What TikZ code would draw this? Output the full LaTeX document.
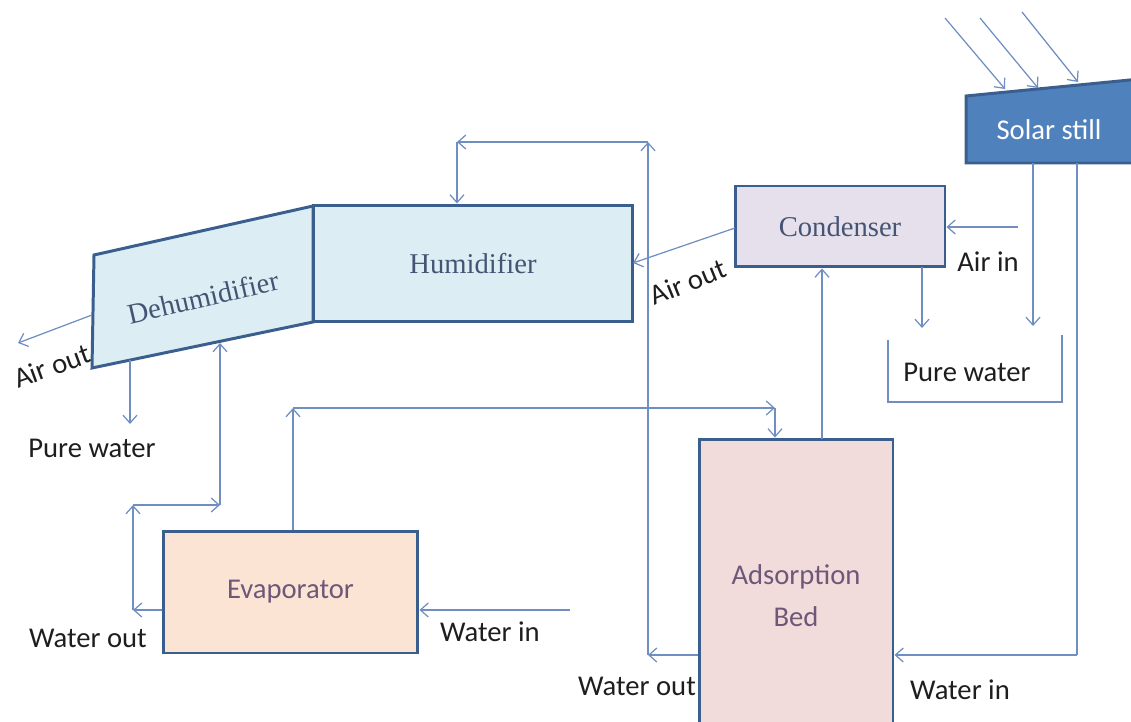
\documentclass[tikz,border=0pt]{standalone}
\usepackage{fontspec}
\setmainfont{Carlito}
\newfontfamily\serifface{Liberation Serif}
\usetikzlibrary{arrows.meta}
\definecolor{conn}{HTML}{6F8EC2}
\definecolor{bord}{HTML}{3A5F8E}
\definecolor{humfill}{HTML}{DCEEF4}
\definecolor{condfill}{HTML}{E6E0EC}
\definecolor{evapfill}{HTML}{FCE4D5}
\definecolor{bedfill}{HTML}{F2DCDB}
\definecolor{solarfill}{HTML}{4F81BD}
\definecolor{serift}{HTML}{455473}
\definecolor{purpt}{HTML}{6E5878}
\definecolor{labt}{HTML}{1E1E1E}
\tikzset{
  every node/.style={font=\fontsize{16.3}{19.5}\selectfont},
  box/.style={draw=bord, line width=1.7pt, inner sep=0pt, align=center},
  flow/.style={draw=conn, line width=0.7pt, -{Straight Barb[length=4.5pt,width=8pt]}},
  plain/.style={draw=conn, line width=0.7pt},
  lab/.style={text=labt, inner sep=0pt}
}
\begin{document}
\begin{tikzpicture}[x=0.02cm,y=-0.02cm]
\useasboundingbox (0,0) rectangle (1131,722);
\clip (0,0) rectangle (1131,722);
% Solar still
\filldraw[fill=solarfill, draw=bord, line width=1.7pt] (966,96) -- (1140,79) -- (1140,163) -- (966,163) -- cycle;
\node[text=white, inner sep=0pt] (solar) at (1049,130) {Solar still};
% Dehumidifier
\filldraw[fill=humfill, draw=bord, line width=1.7pt] (94,255) -- (313,206) -- (313,322) -- (92,368) -- cycle;
\node[text=serift, rotate=13, inner sep=0pt] (dehum) at (203,297) {\serifface Dehumidifier};
% Boxes
\node[box, fill=humfill, text=serift, minimum width=6.4cm, minimum height=2.34cm] (hum) at (473,263.5) {\serifface Humidifier};
\node[box, fill=condfill, text=serift, minimum width=4.2cm, minimum height=1.62cm] (cond) at (840,226.5) {\serifface Condenser};
\node[box, fill=evapfill, text=purpt, minimum width=5.1cm, minimum height=2.44cm] (evap) at (290.5,592) {Evaporator};
\node[box, fill=bedfill, text=purpt, minimum width=3.88cm, minimum height=6.26cm] (bed) at (796,595.5) {};
\node[text=purpt, align=center, inner sep=0pt, font=\fontsize{16.3}{24}\selectfont] (bedtxt) at (796,596) {Adsorption\\Bed};

% sun rays
\coordinate (r1a) at (945,18); \coordinate (r1b) at (1005,89);
\coordinate (r2a) at (980,18); \coordinate (r2b) at (1038,88);
\coordinate (r3a) at (1022,12); \coordinate (r3b) at (1078,82);
\draw[flow] (r1a) -- (r1b);
\draw[flow] (r2a) -- (r2b);
\draw[flow] (r3a) -- (r3b);

% solar still outputs
\coordinate (s1) at (1033,163); \coordinate (s1e) at (1033,326);
\draw[flow] (s1) -- (s1e);
\coordinate (s2) at (1077,163); \coordinate (s2c) at (1077,655);
\draw[plain] (s2) -- (s2c);
\draw[flow] (s2c) -- (bed.east |- s2c);
\node[lab] (win2) at (960,690) {Water in};

% condenser
\coordinate (airin) at (1018,227);
\draw[flow] (airin) -- (cond.east |- airin);
\node[lab] (airinl) at (988,262) {Air in};
\coordinate (cd) at (922,267); \coordinate (cde) at (922,328);
\draw[flow] (cd) -- (cde);
\coordinate (pw1) at (888,340); \coordinate (pw2) at (888,402);
\coordinate (pw3) at (1062,402); \coordinate (pw4) at (1062,335);
\draw[plain] (pw1) -- (pw2) -- (pw3) -- (pw4);
\node[lab] (pw) at (967,372) {Pure water};
\coordinate (bc) at (822,439);
\draw[flow] (bc) -- (cond.south -| bc);
\coordinate (co) at (735,228); \coordinate (hi) at (633,263);
\draw[flow] (co) -- (hi);
\node[lab, rotate=22] (airout2) at (688,282) {Air out};

% bed water out loop
\coordinate (wo1) at (648,655); \coordinate (wo2) at (648,142); \coordinate (wo3) at (457,142);
\draw[flow] (bed.west |- wo1) -- (wo1);
\draw[flow] (wo1) -- (wo2);
\draw[flow] (wo2) -- (wo3);
\draw[flow] (wo3) -- (hum.north -| wo3);
\node[lab] (wout2) at (637,686) {Water out};

% dehumidifier outputs
\coordinate (da) at (92,315); \coordinate (dae) at (18,343);
\draw[flow] (da) -- (dae);
\node[lab, rotate=20] (airout1) at (52,366) {Air out};
\coordinate (dp) at (130,360); \coordinate (dpe) at (130,424);
\draw[flow] (dp) -- (dpe);
\node[lab] (pw0) at (92,448) {Pure water};

% evaporator water out loop
\coordinate (e1) at (133,610); \coordinate (e2) at (133,505); \coordinate (e3) at (220,505); \coordinate (e4) at (220,343);
\draw[flow] (evap.west |- e1) -- (e1);
\draw[flow] (e1) -- (e2);
\draw[flow] (e2) -- (e3);
\draw[flow] (e3) -- (e4);
\node[lab] (wout1) at (88,638) {Water out};

% evaporator water in
\coordinate (ewi) at (570,610);
\draw[flow] (ewi) -- (evap.east |- ewi);
\node[lab] (win1) at (490,632) {Water in};

% evaporator to bed
\coordinate (v1) at (293,408); \coordinate (v2) at (775,408);
\draw[flow] (evap.north -| v1) -- (v1);
\draw[flow] (v1) -- (v2);
\draw[flow] (v2) -- (bed.north -| v2);
\end{tikzpicture}
\end{document}
